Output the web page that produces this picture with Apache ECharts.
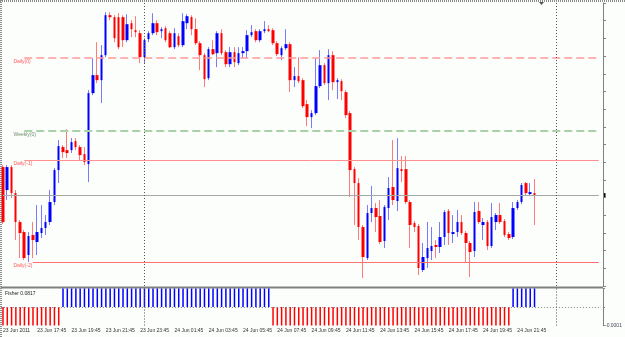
<!DOCTYPE html>
<html>
<head>
<meta charset="utf-8">
<script src="https://cdn.jsdelivr.net/npm/echarts@6/dist/echarts.min.js"></script>
<style>
  html, body { margin: 0; padding: 0; background: #fcfefc; }
  #chart { width: 625px; height: 337px; }
</style>
</head>
<body>
<div id="chart"></div>
<script>
  // EURUSD M15, 23 Jun 2011 15:45 -> 24 Jun 22:45
  var open = [
    1.41995, 1.41880, 1.41995, 1.41865, 1.41720, 1.41670, 1.41555, 1.41655, 1.41620, 1.41665,
    1.41690, 1.41720, 1.41820, 1.41980, 1.42095, 1.42080, 1.42080, 1.42125, 1.42095, 1.42060,
    1.42010, 1.42365, 1.42455, 1.42430, 1.42555, 1.42755, 1.42745, 1.42745, 1.42745, 1.42630,
    1.42715, 1.42680, 1.42665, 1.42545, 1.42635, 1.42665, 1.42715, 1.42675, 1.42690, 1.42665,
    1.42595, 1.42650, 1.42605, 1.42715, 1.42745, 1.42685, 1.42615, 1.42555, 1.42440, 1.42585,
    1.42565, 1.42665, 1.42570, 1.42510, 1.42570, 1.42515, 1.42565, 1.42575, 1.42655, 1.42675,
    1.42630, 1.42675, 1.42685, 1.42680, 1.42615, 1.42555, 1.42590, 1.42610, 1.42430, 1.42450,
    1.42430, 1.42310, 1.42245, 1.42265, 1.42400, 1.42505, 1.42415, 1.42555, 1.42420, 1.42425,
    1.42370, 1.42265, 1.41985, 1.41915, 1.41695, 1.41540, 1.41765, 1.41790, 1.41750, 1.41625,
    1.41790, 1.41895, 1.41825, 1.41985, 1.41985, 1.41820, 1.41715, 1.41700, 1.41480, 1.41540,
    1.41575, 1.41605, 1.41595, 1.41645, 1.41775, 1.41660, 1.41670, 1.41720, 1.41665, 1.41615,
    1.41575, 1.41775, 1.41705, 1.41720, 1.41600, 1.41720, 1.41755, 1.41725, 1.41660, 1.41645,
    1.41790, 1.41820, 1.41915, 1.41860, 1.41865
  ];
  var close = [
    1.41720, 1.41995, 1.41865, 1.41720, 1.41665, 1.41540, 1.41650, 1.41630, 1.41670, 1.41690,
    1.41720, 1.41820, 1.41980, 1.42100, 1.42070, 1.42065, 1.42120, 1.42095, 1.42055, 1.42020,
    1.42365, 1.42455, 1.42430, 1.42555, 1.42755, 1.42745, 1.42640, 1.42595, 1.42630, 1.42710,
    1.42685, 1.42670, 1.42545, 1.42630, 1.42665, 1.42715, 1.42670, 1.42685, 1.42630, 1.42595,
    1.42665, 1.42605, 1.42725, 1.42750, 1.42685, 1.42615, 1.42555, 1.42435, 1.42585, 1.42560,
    1.42665, 1.42565, 1.42510, 1.42570, 1.42520, 1.42565, 1.42575, 1.42655, 1.42670, 1.42630,
    1.42675, 1.42685, 1.42675, 1.42615, 1.42560, 1.42590, 1.42610, 1.42430, 1.42450, 1.42425,
    1.42300, 1.42245, 1.42265, 1.42400, 1.42505, 1.42415, 1.42555, 1.42420, 1.42430, 1.42375,
    1.42255, 1.41980, 1.41915, 1.41695, 1.41545, 1.41765, 1.41790, 1.41745, 1.41620, 1.41795,
    1.41890, 1.41830, 1.41990, 1.41975, 1.41820, 1.41705, 1.41695, 1.41490, 1.41545, 1.41590,
    1.41600, 1.41595, 1.41645, 1.41770, 1.41665, 1.41670, 1.41720, 1.41665, 1.41615, 1.41570,
    1.41770, 1.41720, 1.41720, 1.41600, 1.41745, 1.41755, 1.41720, 1.41655, 1.41640, 1.41790,
    1.41820, 1.41905, 1.41865, 1.41870, 1.41855
  ];
  var low = [
    1.41710, 1.41830, 1.41840, 1.41630, 1.41540, 1.41530, 1.41520, 1.41540, 1.41555, 1.41640,
    1.41655, 1.41705, 1.41805, 1.41915, 1.42040, 1.42040, 1.42065, 1.42080, 1.42030, 1.42005,
    1.41920, 1.42355, 1.42415, 1.42315, 1.42545, 1.42730, 1.42620, 1.42585, 1.42595, 1.42620,
    1.42645, 1.42645, 1.42515, 1.42515, 1.42620, 1.42655, 1.42655, 1.42640, 1.42620, 1.42590,
    1.42585, 1.42595, 1.42595, 1.42685, 1.42655, 1.42605, 1.42480, 1.42395, 1.42430, 1.42555,
    1.42495, 1.42555, 1.42495, 1.42495, 1.42495, 1.42505, 1.42540, 1.42540, 1.42645, 1.42620,
    1.42620, 1.42665, 1.42670, 1.42605, 1.42550, 1.42530, 1.42580, 1.42370, 1.42395, 1.42415,
    1.42290, 1.42200, 1.42190, 1.42255, 1.42390, 1.42405, 1.42330, 1.42380, 1.42335, 1.42330,
    1.42240, 1.41845, 1.41705, 1.41630, 1.41440, 1.41530, 1.41720, 1.41670, 1.41610, 1.41590,
    1.41730, 1.41805, 1.41775, 1.41920, 1.41810, 1.41590, 1.41670, 1.41455, 1.41470, 1.41490,
    1.41530, 1.41540, 1.41565, 1.41605, 1.41605, 1.41615, 1.41645, 1.41655, 1.41520, 1.41445,
    1.41545, 1.41710, 1.41630, 1.41580, 1.41590, 1.41680, 1.41710, 1.41645, 1.41630, 1.41635,
    1.41780, 1.41810, 1.41855, 1.41850, 1.41705
  ];
  var high = [
    1.42005, 1.42005, 1.42005, 1.41880, 1.41730, 1.41680, 1.41670, 1.41720, 1.41805, 1.41805,
    1.41755, 1.41880, 1.41990, 1.42130, 1.42105, 1.42185, 1.42140, 1.42140, 1.42105, 1.42095,
    1.42380, 1.42540, 1.42620, 1.42605, 1.42770, 1.42770, 1.42755, 1.42765, 1.42755, 1.42760,
    1.42730, 1.42750, 1.42680, 1.42640, 1.42675, 1.42765, 1.42730, 1.42695, 1.42700, 1.42675,
    1.42690, 1.42665, 1.42765, 1.42760, 1.42755, 1.42740, 1.42625, 1.42565, 1.42595, 1.42630,
    1.42675, 1.42685, 1.42580, 1.42595, 1.42595, 1.42595, 1.42595, 1.42680, 1.42705, 1.42685,
    1.42685, 1.42725, 1.42705, 1.42690, 1.42625, 1.42600, 1.42685, 1.42620, 1.42495, 1.42545,
    1.42440, 1.42330, 1.42280, 1.42540, 1.42580, 1.42515, 1.42585, 1.42575, 1.42440, 1.42435,
    1.42380, 1.42275, 1.41995, 1.41940, 1.41705, 1.41805, 1.41900, 1.41815, 1.41830, 1.41805,
    1.41945, 1.42130, 1.42140, 1.42050, 1.42050, 1.41830, 1.41725, 1.41710, 1.41615, 1.41720,
    1.41695, 1.41630, 1.41720, 1.41780, 1.41785, 1.41755, 1.41780, 1.41755, 1.41675, 1.41625,
    1.41820, 1.41820, 1.41740, 1.41730, 1.41815, 1.41765, 1.41815, 1.41735, 1.41670, 1.41820,
    1.41830, 1.41915, 1.41920, 1.41915, 1.41935
  ];
  // Fisher histogram (sign bars)
  var fisher = [
    -0.0001, -0.0001, -0.0001, -0.0001, -0.0001, -0.0001, -0.0001, -0.0001, -0.0001, -0.0001,
    -0.0001, -0.0001, -0.0001, -0.0001, 0.0001, 0.0001, 0.0001, 0.0001, 0.0001, 0.0001,
    0.0001, 0.0001, 0.0001, 0.0001, 0.0001, 0.0001, 0.0001, 0.0001, 0.0001, 0.0001,
    0.0001, 0.0001, 0.0001, 0.0001, 0.0001, 0.0001, 0.0001, 0.0001, 0.0001, 0.0001,
    0.0001, 0.0001, 0.0001, 0.0001, 0.0001, 0.0001, 0.0001, 0.0001, 0.0001, 0.0001,
    0.0001, 0.0001, 0.0001, 0.0001, 0.0001, 0.0001, 0.0001, 0.0001, 0.0001, 0.0001,
    0.0001, 0.0001, 0.0001, -0.0001, -0.0001, -0.0001, -0.0001, -0.0001, -0.0001, -0.0001,
    -0.0001, -0.0001, -0.0001, -0.0001, -0.0001, -0.0001, -0.0001, -0.0001, -0.0001, -0.0001,
    -0.0001, -0.0001, -0.0001, -0.0001, -0.0001, -0.0001, -0.0001, -0.0001, -0.0001, -0.0001,
    -0.0001, -0.0001, -0.0001, -0.0001, -0.0001, -0.0001, -0.0001, -0.0001, -0.0001, -0.0001,
    -0.0001, -0.0001, -0.0001, -0.0001, -0.0001, -0.0001, -0.0001, -0.0001, -0.0001, -0.0001,
    -0.0001, -0.0001, -0.0001, -0.0001, -0.0001, -0.0001, -0.0001, -0.0001, -0.0001, 0.0001,
    0.0001, 0.0001, 0.0001, 0.0001, 0.0001
  ];
  var tickLabels = [
    '23 Jun 2011', '23 Jun 17:45', '23 Jun 19:45', '23 Jun 21:45', '23 Jun 23:45',
    '24 Jun 01:45', '24 Jun 03:45', '24 Jun 05:45', '24 Jun 07:45', '24 Jun 09:45',
    '24 Jun 11:45', '24 Jun 13:45', '24 Jun 15:45', '24 Jun 17:45', '24 Jun 19:45', '24 Jun 21:45'
  ];
  var levelNames = ['Daily(0)', 'Weekly(0)', 'Daily(-1)', 'Daily(-2)'];
  var levelValues = [1.42540, 1.42175, 1.42030, 1.41520];
  var levelStart = [5, 5, 5, 7];
  var daySeparators = [33, 129];
  var fisherText = 'Fisher 0.0817';

  var SLOTS = 140;
  var RED = '#ff0000', BLUE = '#0000ff';
  var FONT = '"Liberation Sans", Arial, sans-serif';

  var cats = [];
  for (var i = 0; i < SLOTS; i++) cats.push(String(i));
  var wicks = open.map(function (o, i) { return [o, close[i], low[i], high[i]]; });
  var bodies = open.map(function (o, i) {
    return [o, close[i], Math.min(o, close[i]), Math.max(o, close[i])];
  });
  var lastClose = close[close.length - 1];

  var levelStyles = [
    { color: '#ff9a9a', width: 1.5, type: [8, 4] },
    { color: '#a9d2a9', width: 2, type: [8, 4] },
    { color: '#ff9090', width: 1, type: 'solid' },
    { color: '#ff7070', width: 1, type: 'solid' }
  ];
  var priceStyle = { color: '#a8a8a8', width: 1, type: 'solid' };
  var lineMarks = [
    // current price line across the whole window
    [{ coord: [cats[0], lastClose], lineStyle: priceStyle }, { coord: [cats[SLOTS - 1], lastClose], lineStyle: priceStyle }]
  ];
  levelValues.forEach(function (v, k) {
    lineMarks.push([
      { coord: [cats[levelStart[k]], v], lineStyle: levelStyles[k] },
      { coord: [cats[SLOTS - 1], v], lineStyle: levelStyles[k] }
    ]);
  });
  daySeparators.forEach(function (d) {
    lineMarks.push({ xAxis: cats[d], lineStyle: { color: '#555', width: 1, type: [1, 2] } });
  });

  var chart = echarts.init(document.getElementById('chart'));
  chart.setOption({
    backgroundColor: '#fcfefc',
    animation: false,
    grid: [
      { left: 0.66, right: 24.04, top: 3, height: 283 },
      { left: 0.66, right: 24.04, top: 288.5, height: 37 }
    ],
    xAxis: [
      { type: 'category', gridIndex: 0, data: cats, boundaryGap: true, show: false },
      {
        type: 'category', gridIndex: 1, data: cats, boundaryGap: true,
        axisLine: { show: false }, axisTick: { show: false },
        axisLabel: {
          interval: 0, align: 'left', margin: 3, fontSize: 5, color: '#333', fontFamily: FONT,
          formatter: function (v, idx) { return (idx % 8 === 0 && tickLabels[idx / 8]) || ''; }
        }
      }
    ],
    yAxis: [
      {
        type: 'value', gridIndex: 0, position: 'right', offset: 2,
        min: 1.41400, max: 1.42816, interval: 0.000885,
        axisLine: { show: true, lineStyle: { color: '#808080' } },
        axisTick: { show: true, length: 3, lineStyle: { color: '#808080' } },
        axisLabel: { show: false }, splitLine: { show: false }
      },
      {
        type: 'value', gridIndex: 1, position: 'right', offset: 2,
        min: -0.0001, max: 0.0001, interval: 0.0001,
        axisLine: { show: true, lineStyle: { color: '#808080' } },
        axisTick: { show: true, length: 2, lineStyle: { color: '#808080' } },
        axisLabel: {
          fontSize: 5, color: '#445', fontFamily: FONT, margin: 2,
          formatter: function (v) { return v < 0 ? v.toFixed(4) : ''; }
        },
        splitLine: { show: false }
      }
    ],
    series: [
      {
        name: 'wick', type: 'candlestick', xAxisIndex: 0, yAxisIndex: 0, silent: true,
        barWidth: 1, data: wicks,
        itemStyle: { color: '#7a7aff', color0: '#ff7a7a', borderColor: '#7a7aff', borderColor0: '#ff7a7a', borderWidth: 1 }
      },
      {
        name: 'body', type: 'candlestick', xAxisIndex: 0, yAxisIndex: 0, silent: true,
        barWidth: 3, data: bodies,
        itemStyle: { color: BLUE, color0: RED, borderColor: BLUE, borderColor0: RED, borderWidth: 0 },
        markLine: { silent: true, symbol: ['none', 'none'], label: { show: false }, data: lineMarks }
      },
      {
        name: 'fisher', type: 'bar', xAxisIndex: 1, yAxisIndex: 1, silent: true,
        barWidth: 1.5, data: fisher,
        itemStyle: { color: function (p) { return p.value > 0 ? BLUE : RED; } },
        markLine: {
          silent: true, symbol: ['none', 'none'], label: { show: false },
          data: [{ yAxis: 0, lineStyle: { color: '#808080', width: 1, type: [1, 2] } }].concat(
            daySeparators.map(function (d) {
              return { xAxis: cats[d], lineStyle: { color: '#555', width: 1, type: [1, 2] } };
            }))
        }
      }
    ]
  });

  // frame, separators and text labels
  var graphics = [
    { type: 'line', shape: { x1: 0, y1: 1, x2: 625, y2: 1 }, style: { stroke: '#8c8c8c', lineWidth: 2, lineDash: [1, 1] } },
    { type: 'line', shape: { x1: 1, y1: 0, x2: 1, y2: 337 }, style: { stroke: '#8c8c8c', lineWidth: 2, lineDash: [1, 1] } },
    { type: 'rect', shape: { x: 0.66, y: 286.5, width: 602.4, height: 2 }, style: { fill: '#808080' } },
    { type: 'text', x: 5, y: 291, style: { text: fisherText, fontSize: 5, fontFamily: FONT, fill: '#222' } },
    { type: 'polygon', shape: { points: [[539, 2], [544, 2], [541.5, 5]] }, style: { fill: '#555' } }
  ];
  levelNames.forEach(function (n, k) {
    var y = chart.convertToPixel({ yAxisIndex: 0 }, levelValues[k]);
    graphics.push({
      type: 'text', x: 13.5, y: y + 1,
      style: { text: n, fontSize: 5, fontFamily: FONT, fill: k === 1 ? '#6f8f6f' : '#ff5c5c', verticalAlign: 'top' }
    });
  });
  var lastY = chart.convertToPixel({ yAxisIndex: 0 }, lastClose);
  graphics.push({ type: 'rect', shape: { x: 603, y: lastY - 2, width: 2.5, height: 4 }, style: { fill: '#000' } });
  chart.setOption({ graphic: graphics });
</script>
</body>
</html>
